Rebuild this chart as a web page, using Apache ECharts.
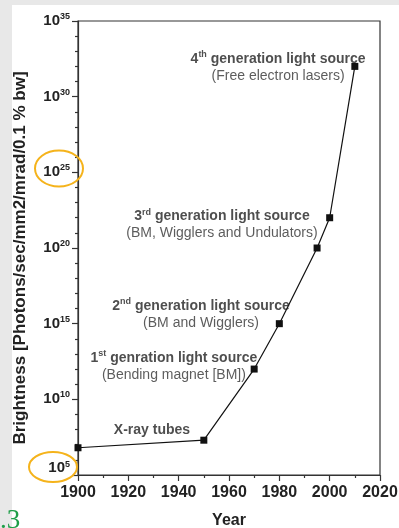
<!DOCTYPE html>
<html><head><meta charset="utf-8">
<script src="https://cdn.jsdelivr.net/npm/echarts@6/dist/echarts.min.js"></script>
<style>html,body{margin:0;padding:0;background:#e8e8e8;} #c{width:399px;height:528px;}</style>
</head><body><div id="c"></div>
<script>
// Data (brightness given as powers of ten)
const years = [1900, 1950, 1970, 1980, 1995, 2000, 2010];
const brightnessExp = [6.8, 7.3, 12, 15, 20, 22, 32];

// Annotations (anchor in data space: year, exponent)
const annoYears = [1979.5, 1957.2, 1948.9, 1938.1, 1929.4];
const annoExps = [31.95, 21.55, 15.62, 12.18, 7.95];
const annoOrdinal = ['4', '3', '2', '1', ''];
const annoSuffix = ['th', 'rd', 'nd', 'st', ''];
const annoTitle = [' generation light source', ' generation light source', ' generation light source', ' genration light source', 'X-ray tubes'];
const annoSub = ['(Free electron lasers)', '(BM, Wigglers and Undulators)', '(BM and Wigglers)', '(Bending magnet [BM])', ''];

const FONT = '"Liberation Sans", Arial, sans-serif';
const chart = echarts.init(document.getElementById('c'), null, {renderer: 'canvas'});

const annoData = annoYears.map((y, i) => ({
  value: [y, annoExps[i]],
  idx: i
}));

function annoFormatter(p) {
  const i = p.data.idx;
  let s = '';
  if (annoOrdinal[i]) s += '{b|' + annoOrdinal[i] + '}{s|' + annoSuffix[i] + '}';
  s += '{b|' + annoTitle[i] + '}';
  if (annoSub[i]) s += '\n{n|' + annoSub[i] + '}';
  return s;
}

const option = {
  backgroundColor: 'transparent',
  animation: false,
  grid: {left: 78, right: 19, top: 21, bottom: 53, containLabel: false, outerBoundsMode: 'none',
         show: true, borderColor: '#333', borderWidth: 1.2, backgroundColor: '#fff'},
  graphic: [
    {type: 'rect', z: -100, shape: {x: 12, y: 5, width: 387, height: 523}, style: {fill: '#fff'}},
    {type: 'ellipse', z: 100, shape: {cx: 59, cy: 168.5, rx: 24, ry: 18}, style: {fill: 'none', stroke: '#f5b31b', lineWidth: 2}},
    {type: 'ellipse', z: 100, shape: {cx: 53, cy: 467, rx: 24, ry: 15}, style: {fill: 'none', stroke: '#f5b31b', lineWidth: 2}},
    {type: 'text', z: 100, style: {text: '.3', x: 0, y: 534, font: '27px "Liberation Serif", serif', fill: '#1f9e48', verticalAlign: 'bottom'}}
  ],
  xAxis: {
    type: 'value', min: 1900, max: 2020, interval: 20,
    name: 'Year', nameLocation: 'middle', nameGap: 38,
    nameTextStyle: {fontFamily: FONT, fontWeight: 'bold', fontSize: 16, color: '#222'},
    axisLine: {lineStyle: {color: '#333', width: 1.2}},
    axisTick: {show: true, inside: false, length: 6, lineStyle: {color: '#333', width: 1.2}},
    minorTick: {show: true, splitNumber: 2, length: 3, lineStyle: {color: '#333', width: 1.2}},
    splitLine: {show: false},
    axisLabel: {margin: 10, formatter: v => String(v), fontFamily: FONT, fontWeight: 'bold', fontSize: 16, color: '#222'}
  },
  yAxis: {
    type: 'value', min: 5, max: 35, interval: 5,
    name: 'Brightness [Photons/sec/mm2/mrad/0.1 % bw]', nameLocation: 'middle', nameGap: 49,
    nameTextStyle: {fontFamily: FONT, fontWeight: 'bold', fontSize: 17, color: '#222', padding: [0, 20, 0, 0]},
    axisLine: {lineStyle: {color: '#333', width: 1.2}},
    axisTick: {show: true, inside: false, length: 6, lineStyle: {color: '#333', width: 1.2}},
    minorTick: {show: true, splitNumber: 5, length: 3, lineStyle: {color: '#333', width: 1.2}},
    splitLine: {show: false},
    axisLabel: {
      margin: 8,
      formatter: v => v === 5 ? '{bl|10}{sl|' + v + '}' : '{b|10}{s|' + v + '}',
      rich: {
        b: {fontFamily: FONT, fontWeight: 'bold', fontSize: 15, color: '#222', lineHeight: 18},
        s: {fontFamily: FONT, fontWeight: 'bold', fontSize: 9, color: '#222', verticalAlign: 'top'},
        bl: {fontFamily: FONT, fontWeight: 'bold', fontSize: 15, color: '#222', height: 18, padding: [0, 0, 14, 0], verticalAlign: 'bottom'},
        sl: {fontFamily: FONT, fontWeight: 'bold', fontSize: 9, color: '#222', height: 11, padding: [0, 0, 21, 0], verticalAlign: 'bottom'}
      }
    }
  },
  series: [
    {
      type: 'line', data: years.map((y, i) => [y, brightnessExp[i]]),
      symbol: 'rect', symbolSize: 7, showAllSymbol: true,
      lineStyle: {color: '#111', width: 1.2}, itemStyle: {color: '#111'},
      clip: false, z: 3
    },
    {
      type: 'scatter', data: annoData, symbolSize: 0, silent: true, z: 5,
      label: {
        show: true, position: 'inside', align: 'center', verticalAlign: 'middle',
        formatter: annoFormatter,
        rich: {
          b: {fontFamily: FONT, fontWeight: 'bold', fontSize: 14, color: '#222', lineHeight: 17, align: 'center'},
          s: {fontFamily: FONT, fontWeight: 'bold', fontSize: 9, color: '#222', verticalAlign: 'top', align: 'center'},
          n: {fontFamily: FONT, fontSize: 14, color: '#333', lineHeight: 17, align: 'center'}
        }
      }
    }
  ]
};
chart.setOption(option);
</script></body></html>
